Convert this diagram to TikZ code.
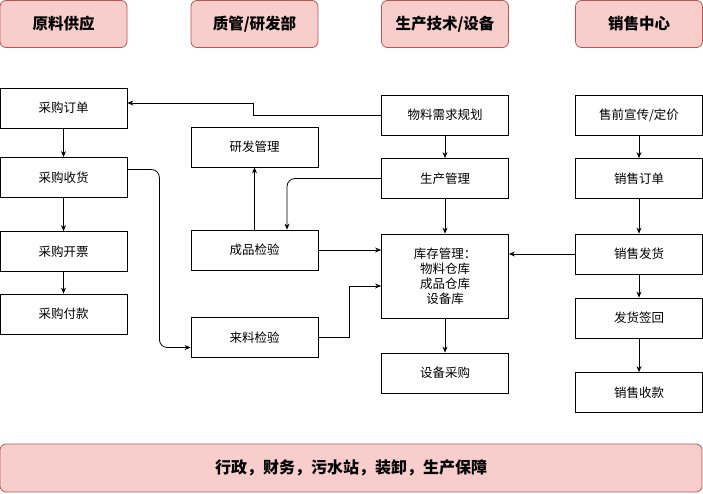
\documentclass[tikz,border=0pt]{standalone}
\usepackage{fontspec}
\setmainfont{Noto Sans CJK SC}
\usetikzlibrary{arrows.meta}
\definecolor{hdrfill}{HTML}{F8CECC}
\definecolor{hdrline}{HTML}{B85450}
\begin{document}
\begin{tikzpicture}[x=1pt, y=-1pt,
	box/.style={rectangle, draw, line width=0.8pt, minimum width=127pt, minimum height=40pt, font=\fontsize{12.5}{15}\selectfont, align=center},
	hdr/.style={rectangle, rounded corners=6pt, draw=hdrline, fill=hdrfill, line width=0.8pt, minimum width=127pt, minimum height=47pt, font=\fontsize{15.5}{18}\selectfont\bfseries},
	flow/.style={-{Stealth[length=6pt,width=5pt]}, line width=0.8pt}]
	\useasboundingbox (0,0) rectangle (703,493);

	\node[hdr] (h1) at (63.5, 24) {原料供应};
	\node[hdr] (h2) at (254.5, 24) {质管/研发部};
	\node[hdr] (h3) at (445, 24) {生产技术/设备};
	\node[hdr] (h4) at (639, 24) {销售中心};

	\node[box] (po) at (63.5, 108) {采购订单};
	\node[box] (rcv) at (63.5, 177.5) {采购收货};
	\node[box] (inv1) at (63.5, 251.5) {采购开票};
	\node[box] (pay) at (63.5, 314) {采购付款};

	\node[box] (rd) at (254.5, 147) {研发管理};
	\node[box] (fqc) at (254.5, 250) {成品检验};
	\node[box] (iqc) at (254.5, 337.5) {来料检验};

	\node[box] (mrp) at (445, 115) {物料需求规划};
	\node[box] (pm) at (445, 178.5) {生产管理};
	\node[box, minimum height=84pt] (stock) at (445, 276) {库存管理：\\物料仓库\\成品仓库\\设备库};
	\node[box] (eqp) at (445, 373) {设备采购};

	\node[box] (pre) at (639, 115) {售前宣传/定价};
	\node[box] (so) at (639, 178.5) {销售订单};
	\node[box] (ship) at (639, 254) {销售发货};
	\node[box] (sign) at (639, 318) {发货签回};
	\node[box] (cash) at (639, 392.5) {销售收款};

	\node[hdr, minimum width=702pt, minimum height=48pt, font=\fontsize{16}{19}\selectfont\bfseries] (base) at (351, 468) {行政，财务，污水站，装卸，生产保障};

	% purchasing
	\draw[flow] (po) -- (rcv);
	\draw[flow] (rcv) -- (inv1);
	\draw[flow] (inv1) -- (pay);
	\draw[flow, rounded corners=8pt] ([yshift=8pt]rcv.east) -- ++(32,0) |- ([yshift=-10pt]iqc.west);

	% quality / r&d
	\draw[flow] (fqc) -- (rd);
	\draw[flow] (fqc.east) -- (fqc.east -| stock.west);
	\draw[flow] (iqc.east) -- ++(31,0) |- ([yshift=-10pt]stock.west);

	% production
	\draw[flow] (mrp.west) -- ++(-128,0) |- ([yshift=5pt]po.east);
	\draw[flow] (mrp) -- (pm);
	\draw[flow, rounded corners=8pt] (pm.west) -| ([xshift=32.5pt]fqc.north);
	\draw[flow] (pm) -- (stock);
	\draw[flow] (stock) -- (eqp);

	% sales
	\draw[flow] (pre) -- (so);
	\draw[flow] (so) -- (ship);
	\draw[flow] (ship.west) -- (ship.west -| stock.east);
	\draw[flow] (ship) -- (sign);
	\draw[flow] (sign) -- (cash);
\end{tikzpicture}
\end{document}
